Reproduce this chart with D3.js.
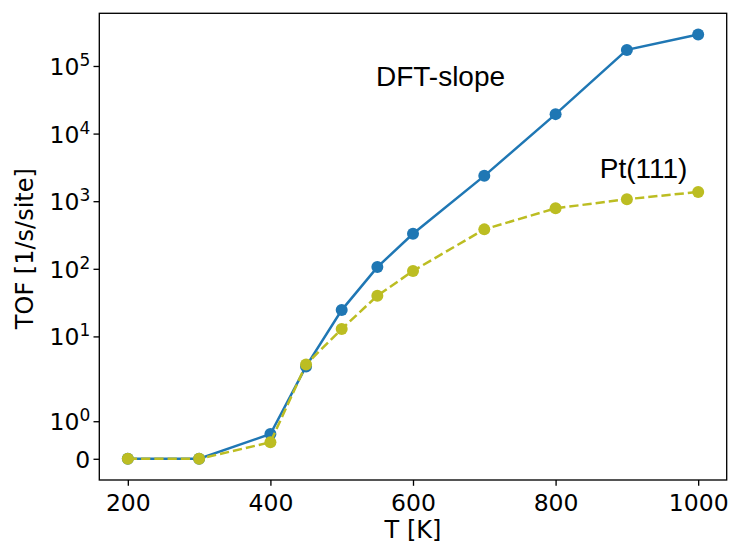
<!DOCTYPE html>
<html>
<head>
<meta charset="utf-8">
<script src="https://cdn.jsdelivr.net/npm/d3@7"></script>
<style>
  body { margin: 0; background: #fff; }
  svg { display: block; }
  .tick-label { font-family: "DejaVu Sans", sans-serif; font-size: 23.5px; fill: #000; }
  .axis-label { font-family: "DejaVu Sans", sans-serif; font-size: 24px; fill: #000; }
  .note { font-family: "Liberation Sans", Arial, sans-serif; font-size: 28px; fill: #000; }
</style>
</head>
<body>
<div id="chart"></div>
<script>
// temperatures [K]
const temps = [200, 300, 400, 450, 500, 550, 600, 700, 800, 900, 1000];
// turnover frequency [1/s/site]
const dftSlope = [0, 0, 0.66, 3.6, 24.5, 106, 330, 2370, 19400, 173000, 292000];
const pt111 = [0, 0, 0.44, 3.85, 12.9, 40, 93, 383, 785, 1070, 1370];

const xTicks = [200, 400, 600, 800, 1000];
const yTicks = [0, 1, 10, 100, 1000, 10000, 100000];
const yTickExp = [null, 0, 1, 2, 3, 4, 5];

const notes = [
  { text: 'DFT-slope', t: 548, tof: 5.1e4 },
  { text: 'Pt(111)', t: 862, tof: 2.2e3 }
];

const width = 730, height = 544;
const margin = { top: 13.3, right: 3.3, bottom: 64, left: 99.3 };
const w = width - margin.left - margin.right;
const h = height - margin.top - margin.bottom;

// symmetric log transform, linear below LINTHRESH (same idea as matplotlib's symlog)
const LINTHRESH = 2, LINSCALE = 1;
const linAdj = LINSCALE / (1 - 1 / 10);
function symlog(v) {
  const a = Math.abs(v), s = Math.sign(v);
  return a <= LINTHRESH ? s * a * linAdj / LINTHRESH : s * (linAdj + Math.log10(a / LINTHRESH));
}

const svg = d3.select('#chart').append('svg')
  .attr('width', width)
  .attr('height', height);
const g = svg.append('g')
  .attr('transform', `translate(${margin.left},${margin.top})`);

const xPad = (d3.max(temps) - d3.min(temps)) * 0.05;
const x = d3.scaleLinear()
  .domain([d3.min(temps) - xPad, d3.max(temps) + xPad])
  .range([0, w]);

const tMax = symlog(d3.max(dftSlope.concat(pt111)));
const tMin = symlog(0);
const yPad = (tMax - tMin) * 0.05;
const yLin = d3.scaleLinear()
  .domain([tMin - yPad, tMax + yPad])
  .range([h, 0]);
const y = v => yLin(symlog(v));

// axes
const xAxis = g.append('g')
  .attr('transform', `translate(0,${h})`)
  .call(d3.axisBottom(x).tickValues(xTicks).tickSize(5.8).tickPadding(9).tickFormat(d3.format('d')));
xAxis.selectAll('text').attr('class', 'tick-label').attr('font-size', null).attr('font-family', null);

const yAxis = g.append('g')
  .call(d3.axisLeft(yLin).tickValues(yTicks.map(symlog)).tickSize(5.8).tickFormat(() => ''));
yAxis.selectAll('.tick text').remove();
yAxis.selectAll('.tick').each(function(d, i) {
  const txt = d3.select(this).append('text')
    .attr('class', 'tick-label')
    .attr('text-anchor', 'end')
    .attr('x', -9)
    .attr('y', 8.5);
  if (yTickExp[i] === null) {
    txt.text('0');
  } else {
    txt.append('tspan').text('10');
    txt.append('tspan').attr('dy', -9).attr('font-size', 17).text(yTickExp[i]);
  }
});

[xAxis, yAxis].forEach(a => {
  a.selectAll('line').attr('stroke', '#000').attr('stroke-width', 1.33);
  a.select('.domain').remove();
});

// frame
g.append('rect')
  .attr('width', w).attr('height', h)
  .attr('fill', 'none').attr('stroke', '#000').attr('stroke-width', 1.33);

g.append('text')
  .attr('class', 'axis-label')
  .attr('text-anchor', 'middle')
  .attr('x', w / 2)
  .attr('y', h + 58)
  .text('T [K]');

g.append('text')
  .attr('class', 'axis-label')
  .attr('text-anchor', 'middle')
  .attr('transform', `translate(${32.5 - margin.left},${h / 2 + 2}) rotate(-90)`)
  .text('TOF [1/s/site]');

// series
const series = [
  { values: dftSlope, color: '#1f77b4', dash: null },
  { values: pt111, color: '#bcbd22', dash: '9.25,4' }
];

const line = d3.line()
  .x(d => x(d[0]))
  .y(d => y(d[1]));

series.forEach(s => {
  const pts = temps.map((t, i) => [t, s.values[i]]);
  g.append('path')
    .datum(pts)
    .attr('fill', 'none')
    .attr('stroke', s.color)
    .attr('stroke-width', 2.5)
    .attr('stroke-dasharray', s.dash)
    .attr('d', line);
  g.selectAll(null)
    .data(pts)
    .enter()
    .append('circle')
    .attr('cx', d => x(d[0]))
    .attr('cy', d => y(d[1]))
    .attr('r', 6)
    .attr('fill', s.color);
});

g.selectAll('.note')
  .data(notes)
  .enter()
  .append('text')
  .attr('class', 'note')
  .attr('x', d => x(d.t))
  .attr('y', d => y(d.tof))
  .text(d => d.text);
</script>
</body>
</html>
